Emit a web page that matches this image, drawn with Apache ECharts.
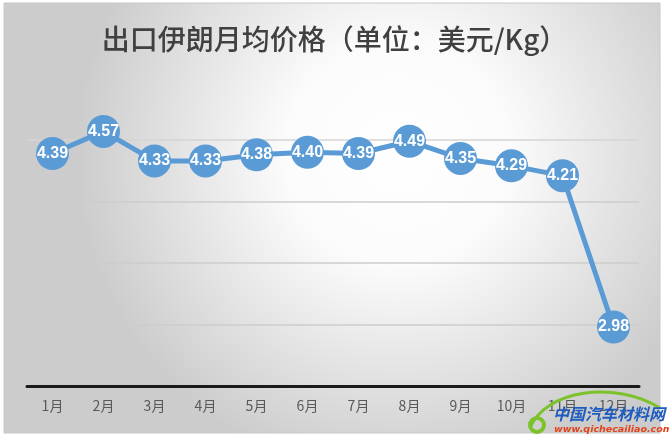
<!DOCTYPE html>
<html><head><meta charset="utf-8">
<script src="https://cdn.jsdelivr.net/npm/echarts@6/dist/echarts.min.js"></script>
<style>html,body{margin:0;padding:0;background:#fff}#c{width:669px;height:443px}</style>
</head><body><div id="c"></div>
<script>
const titleText = '出口伊朗月均价格（单位：美元/Kg）';
const months = ['1月','2月','3月','4月','5月','6月','7月','8月','9月','10月','11月','12月'];
const prices = [4.39, 4.57, 4.33, 4.33, 4.38, 4.40, 4.39, 4.49, 4.35, 4.29, 4.21, 2.98];
const yMin = 2.5, yMax = 5.0, yStep = 0.5;
const wmName = '中国汽车材料网';
const wmUrl = 'www.qichecailiao.com';

const chart = echarts.init(document.getElementById('c'), null, {renderer:'canvas'});
const cjk = '"Noto Sans CJK SC", "Noto Sans", sans-serif';
chart.setOption({
  animation:false,
  backgroundColor:'#ffffff',
  graphic:[
    {type:'rect', z:-10, silent:true, shape:{x:4,y:3,width:656,height:430},
     style:{fill:{type:'radial', x:0.6, y:0.35, r:0.75, colorStops:[
       {offset:0,color:'#ffffff'},{offset:0.35,color:'#fbfbfb'},{offset:1,color:'#cccccc'}]},
       stroke:'#c8c8c8', lineWidth:1}},
    {type:'text', left:'center', top:25, z:5, style:{text:titleText, fill:'#404040', font:'500 28px '+cjk}},
    {type:'bezierCurve', z:20, shape:{x1:530,y1:428,cpx1:545,cpy1:390,x2:660,y2:408,cpx2:615,cpy2:380},
     style:{stroke:'#7cc22a', lineWidth:3, fill:null}},
    {type:'ring', z:20, shape:{cx:537, cy:425, r:9, r0:5}, style:{fill:'#7cc22a'}},
    {type:'text', z:21, left:553, top:406, style:{text:wmName, fill:'#1e5cc0', font:'italic bold 16px '+cjk}},
    {type:'text', z:21, left:554, top:425, style:{text:wmUrl, fill:'#e2431c', font:'italic bold 9.5px "DejaVu Sans", sans-serif'}}
  ],
  grid:{left:27, right:30, top:78.5, bottom:57},
  xAxis:{type:'category', data:months, boundaryGap:true,
    axisLine:{lineStyle:{color:'#1a1a1a', width:3}},
    axisTick:{show:false},
    axisLabel:{color:'#595959', fontSize:14, fontFamily:cjk, margin:13}},
  yAxis:{type:'value', min:yMin, max:yMax, interval:yStep,
    axisLine:{show:false}, axisTick:{show:false}, axisLabel:{show:false},
    splitLine:{lineStyle:{color:['#cccccc','#cccccc','#cccccc','#cccccc','#d4d4d4','rgba(0,0,0,0)'], width:1.5}}},
  series:[{type:'line', data:prices, symbol:'circle', symbolSize:33,
    lineStyle:{color:'#5b9bd5', width:5},
    itemStyle:{color:'#5b9bd5'},
    label:{show:true, position:'inside', color:'#ffffff', fontWeight:'bold', fontSize:16,
      fontFamily:'"Liberation Sans", Arial, sans-serif', formatter:p=>p.value.toFixed(2)}}]
});
</script></body></html>
